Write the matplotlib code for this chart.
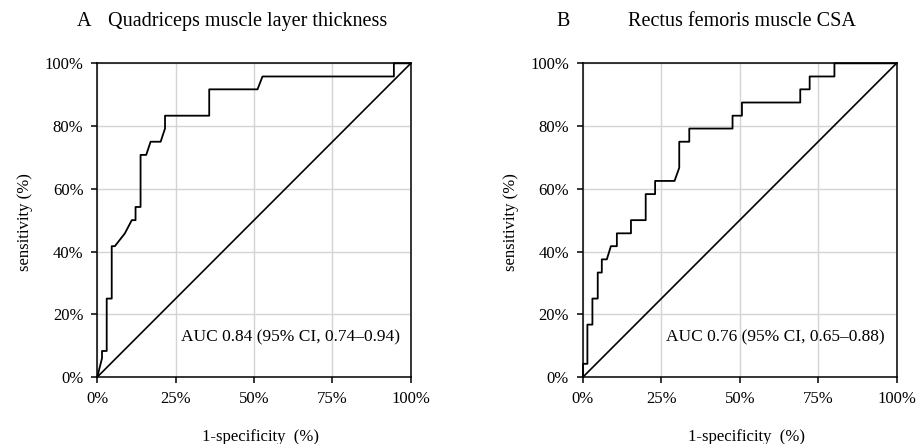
import matplotlib.pyplot as plt
from matplotlib.ticker import PercentFormatter

plt.rcParams['font.family'] = ['Liberation Serif', 'DejaVu Serif']

# ROC curve vertices (1-specificity %, sensitivity %)
fpr_a = [0, 1.5, 1.5, 3.0, 3.0, 4.6, 4.6, 5.6, 8.8, 11.0, 12.2, 12.2, 13.8, 13.8,
         15.6, 17.0, 20.2, 21.6, 21.6, 35.7, 35.7, 51.1, 52.7, 94.6, 94.6, 100]
tpr_a = [0, 6.0, 8.3, 8.3, 25.0, 25.0, 41.7, 41.7, 45.8, 50.0, 50.0, 54.2, 54.2, 70.8,
         70.8, 75.0, 75.0, 79.2, 83.3, 83.3, 91.7, 91.7, 95.8, 95.8, 100, 100]

fpr_b = [0, 0, 1.4, 1.4, 3.0, 3.0, 4.7, 4.7, 6.0, 6.0, 7.6, 8.9, 10.8, 10.8, 15.3,
         15.3, 20.0, 20.0, 23.0, 23.0, 29.2, 30.7, 30.7, 33.9, 33.9, 47.7, 47.7,
         50.7, 50.7, 69.3, 69.3, 72.3, 72.3, 80.2, 80.2, 100]
tpr_b = [0, 4.2, 4.2, 16.7, 16.7, 25.0, 25.0, 33.3, 33.3, 37.5, 37.5, 41.7, 41.7, 45.8,
         45.8, 50.0, 50.0, 58.3, 58.3, 62.5, 62.5, 66.7, 75.0, 75.0, 79.2, 79.2, 83.3,
         83.3, 87.5, 87.5, 91.7, 91.7, 95.8, 95.8, 100, 100]

letters = ['A', 'B']
titles = ['Quadriceps muscle layer thickness', 'Rectus femoris muscle CSA']
auc_texts = ['AUC 0.84 (95% CI, 0.74\u20130.94)', 'AUC 0.76 (95% CI, 0.65\u20130.88)']
x_ticks = [0, 25, 50, 75, 100]
y_ticks = [0, 20, 40, 60, 80, 100]

W, H = 919, 444
fig = plt.figure(figsize=(W / 100, H / 100), dpi=100)

panels = [(fpr_a, tpr_a, 97.3), (fpr_b, tpr_b, 583.0)]
letter_x = [77, 556]
title_x = [108, 628]

for i, (fpr, tpr, left) in enumerate(panels):
    ax = fig.add_axes([left / W, (H - 377) / H, 313.5 / W, 313.7 / H])
    ax.plot([0, 100], [0, 100], color='black', lw=1.2, zorder=3)
    ax.plot(fpr, tpr, color='black', lw=1.3, zorder=4, clip_on=False)
    ax.set_xlim(0, 100)
    ax.set_ylim(0, 100)
    ax.set_xticks(x_ticks)
    ax.set_yticks(y_ticks)
    ax.xaxis.set_major_formatter(PercentFormatter(decimals=0))
    ax.yaxis.set_major_formatter(PercentFormatter(decimals=0))
    ax.grid(True, color='#d4d4d4', lw=1.0)
    ax.set_axisbelow(True)
    for s in ax.spines.values():
        s.set_color('black')
        s.set_linewidth(1.1)
    ax.tick_params(direction='out', length=4, width=1.1, pad=6, labelsize=12)
    ax.text(26.6, 11.2, auc_texts[i], fontsize=12.5, ha='left', va='baseline', zorder=5)

    fig.text(letter_x[i] / W, 1 - 26 / H, letters[i], fontsize=14.5, va='baseline')
    fig.text(title_x[i] / W, 1 - 26 / H, titles[i], fontsize=14.5, va='baseline')
    fig.text((left + 156.7 + 7) / W, 1 - 441 / H, '1-specificity  (%)', fontsize=12,
             ha='center', va='baseline')
    fig.text((left - 72) / W, 1 - 222 / H, 'sensitivity (%)', fontsize=12,
             rotation=90, ha='center', va='center')

fig.savefig('out.png', dpi=100)
